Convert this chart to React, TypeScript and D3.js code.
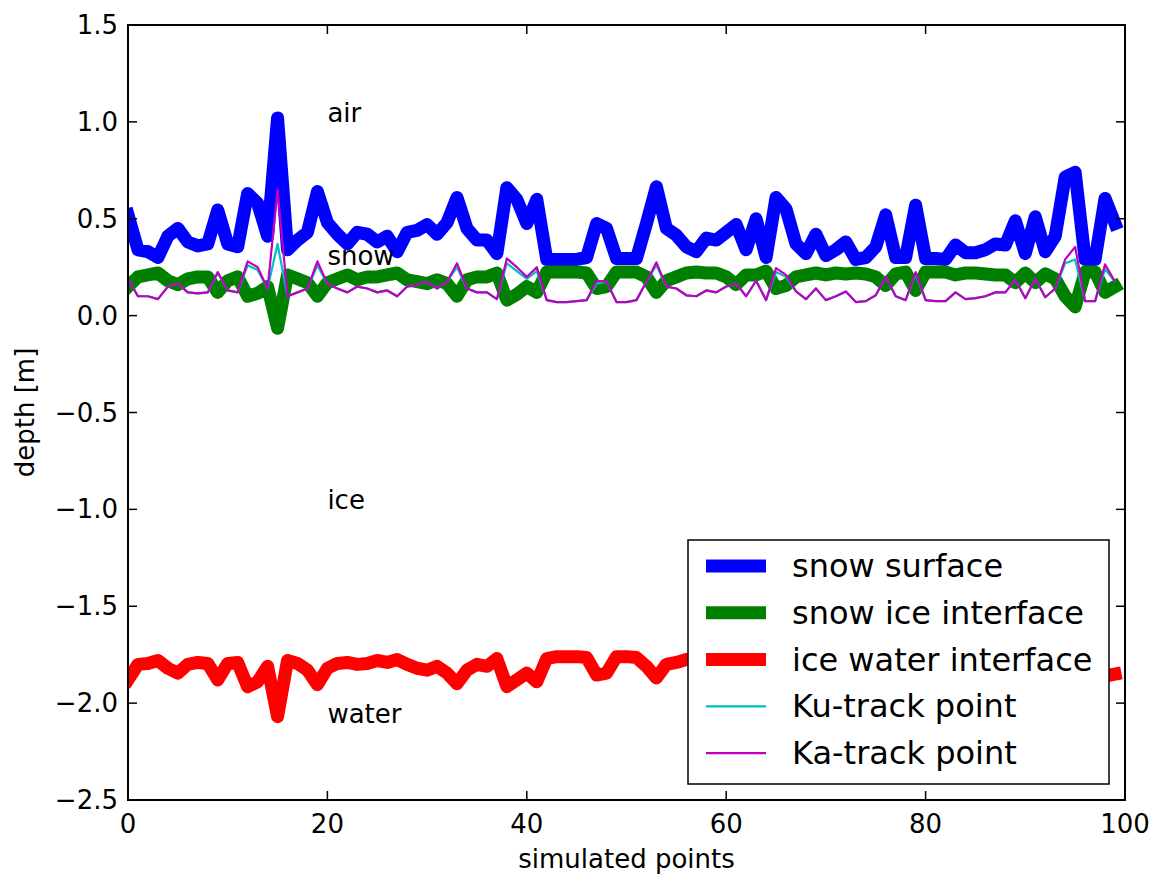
import React from "react";
import * as d3 from "d3";

// ---- data ----
const snowSurface = [
  0.52, 0.34, 0.33, 0.30, 0.41, 0.45, 0.38, 0.36, 0.37, 0.545,
  0.37, 0.355, 0.63, 0.58, 0.41, 1.02, 0.34, 0.39, 0.43, 0.64,
  0.48, 0.42, 0.37, 0.43, 0.42, 0.38, 0.41, 0.33, 0.43, 0.44,
  0.47, 0.42, 0.48, 0.61, 0.45, 0.39, 0.39, 0.32, 0.66, 0.60,
  0.475, 0.60, 0.29, 0.29, 0.29, 0.29, 0.30, 0.475, 0.45, 0.295,
  0.295, 0.295, 0.475, 0.665, 0.45, 0.415, 0.355, 0.33, 0.40, 0.39,
  0.43, 0.47, 0.34, 0.50, 0.30, 0.61, 0.55, 0.37, 0.32, 0.42,
  0.31, 0.34, 0.38, 0.29, 0.30, 0.355, 0.52, 0.30, 0.30, 0.57,
  0.295, 0.295, 0.29, 0.365, 0.325, 0.325, 0.34, 0.37, 0.365, 0.49,
  0.32, 0.51, 0.33, 0.41, 0.715, 0.74, 0.29, 0.29, 0.605, 0.475,
];
const snowIce = [
  0.15, 0.20, 0.21, 0.22, 0.18, 0.16, 0.19, 0.20, 0.20, 0.12,
  0.18, 0.20, 0.10, 0.115, 0.15, -0.065, 0.21, 0.19, 0.17, 0.10,
  0.17, 0.19, 0.21, 0.185, 0.20, 0.20, 0.21, 0.22, 0.185, 0.175,
  0.165, 0.185, 0.165, 0.10, 0.185, 0.20, 0.20, 0.22, 0.08, 0.11,
  0.15, 0.12, 0.225, 0.225, 0.225, 0.225, 0.22, 0.14, 0.15, 0.225,
  0.225, 0.225, 0.20, 0.12, 0.18, 0.20, 0.22, 0.225, 0.22, 0.22,
  0.20, 0.16, 0.21, 0.21, 0.23, 0.14, 0.155, 0.20, 0.21, 0.22,
  0.21, 0.22, 0.215, 0.22, 0.215, 0.20, 0.155, 0.215, 0.225, 0.13,
  0.225, 0.225, 0.225, 0.21, 0.22, 0.22, 0.215, 0.21, 0.21, 0.17,
  0.22, 0.17, 0.215, 0.19, 0.10, 0.045, 0.225, 0.225, 0.12, 0.15,
];
const iceWater = [
  -1.88, -1.80, -1.795, -1.78, -1.82, -1.845, -1.80, -1.79, -1.795, -1.88,
  -1.795, -1.79, -1.915, -1.89, -1.81, -2.07, -1.78, -1.795, -1.83, -1.905,
  -1.82, -1.795, -1.79, -1.80, -1.795, -1.78, -1.79, -1.775, -1.80, -1.82,
  -1.83, -1.81, -1.845, -1.90, -1.83, -1.80, -1.81, -1.77, -1.915, -1.88,
  -1.845, -1.89, -1.77, -1.76, -1.76, -1.76, -1.765, -1.855, -1.845, -1.76,
  -1.76, -1.765, -1.81, -1.87, -1.80, -1.79, -1.775, -1.77, -1.77, -1.78,
  -1.79, -1.81, -1.78, -1.84, -1.77, -1.87, -1.85, -1.79, -1.78, -1.78,
  -1.77, -1.79, -1.79, -1.77, -1.77, -1.80, -1.85, -1.77, -1.77, -1.87,
  -1.77, -1.77, -1.77, -1.79, -1.78, -1.78, -1.79, -1.79, -1.79, -1.84,
  -1.78, -1.85, -1.79, -1.82, -1.90, -1.94, -1.77, -1.77, -1.86, -1.85,
];
const kuTrack = [
  0.19, 0.10, 0.10, 0.085, 0.15, 0.165, 0.12, 0.115, 0.12, 0.22,
  0.13, 0.12, 0.26, 0.235, 0.14, 0.37, 0.10, 0.12, 0.14, 0.26,
  0.165, 0.14, 0.12, 0.15, 0.14, 0.12, 0.13, 0.10, 0.15, 0.16,
  0.175, 0.14, 0.175, 0.25, 0.14, 0.12, 0.12, 0.085, 0.27, 0.23,
  0.19, 0.23, 0.08, 0.07, 0.07, 0.075, 0.08, 0.165, 0.175, 0.07,
  0.07, 0.08, 0.175, 0.26, 0.15, 0.14, 0.105, 0.10, 0.13, 0.12,
  0.15, 0.165, 0.10, 0.18, 0.08, 0.225, 0.20, 0.125, 0.085, 0.14,
  0.08, 0.10, 0.125, 0.07, 0.075, 0.105, 0.20, 0.10, 0.08, 0.215,
  0.08, 0.075, 0.075, 0.12, 0.085, 0.09, 0.10, 0.12, 0.12, 0.185,
  0.09, 0.19, 0.095, 0.14, 0.27, 0.29, 0.075, 0.075, 0.24, 0.175,
];
const kaTrack = [
  0.19, 0.10, 0.10, 0.085, 0.15, 0.165, 0.12, 0.115, 0.12, 0.225,
  0.13, 0.12, 0.28, 0.25, 0.14, 0.65, 0.10, 0.12, 0.14, 0.28,
  0.165, 0.14, 0.12, 0.15, 0.14, 0.12, 0.13, 0.10, 0.15, 0.16,
  0.175, 0.14, 0.175, 0.27, 0.14, 0.12, 0.12, 0.085, 0.295, 0.25,
  0.20, 0.25, 0.08, 0.07, 0.07, 0.075, 0.08, 0.18, 0.175, 0.07,
  0.07, 0.08, 0.175, 0.275, 0.15, 0.14, 0.105, 0.10, 0.13, 0.12,
  0.15, 0.165, 0.10, 0.18, 0.08, 0.245, 0.21, 0.125, 0.085, 0.14,
  0.08, 0.10, 0.125, 0.07, 0.075, 0.105, 0.20, 0.10, 0.08, 0.225,
  0.08, 0.075, 0.075, 0.12, 0.085, 0.09, 0.10, 0.12, 0.12, 0.185,
  0.09, 0.19, 0.095, 0.14, 0.29, 0.355, 0.075, 0.075, 0.265, 0.175,
];
const xTicks = [0, 20, 40, 60, 80, 100];
const yTicks = [-2.5, -2.0, -1.5, -1.0, -0.5, 0.0, 0.5, 1.0, 1.5];
const layerLabels = [
  { text: "air", x: 20, y: 1.0 },
  { text: "snow", x: 20, y: 0.26 },
  { text: "ice", x: 20, y: -1.0 },
  { text: "water", x: 20, y: -2.1 },
];

const series = [
  { name: "snow surface", values: snowSurface, color: "#0000ff", width: 13 },
  { name: "snow ice interface", values: snowIce, color: "#008000", width: 13 },
  { name: "ice water interface", values: iceWater, color: "#ff0000", width: 13 },
  { name: "Ku-track point", values: kuTrack, color: "#00bfbf", width: 2.2 },
  { name: "Ka-track point", values: kaTrack, color: "#bf00bf", width: 2.2 },
];

const W = 1155;
const H = 878;
const M = { left: 128, right: 1125, top: 25, bottom: 800 };
const FONT = "'DejaVu Sans', sans-serif";

export default function App() {
  const x = d3.scaleLinear().domain([0, 100]).range([M.left, M.right]);
  const y = d3.scaleLinear().domain([-2.5, 1.5]).range([M.bottom, M.top]);
  const fmt = (v: number) => d3.format(".1f")(v).replace("-", "\u2212");
  const tickLen = 9;
  const fs = 26;

  const lineGen = (vals: number[]) =>
    d3
      .line<number>()
      .x((_, i) => x(i))
      .y((v) => y(v))(vals) || "";

  const legW = 421;
  const legH = 244;
  const legX = M.right - 16 - legW;
  const legY = M.bottom - 16 - legH;
  const rowH = 46.8;

  return (
    <svg width={W} height={H} style={{ position: "absolute", left: 0, top: 0, background: "#fff" }}>
      <rect x={0} y={0} width={W} height={H} fill="#fff" />
      <defs>
        <clipPath id="plotclip">
          <rect x={M.left} y={M.top} width={M.right - M.left} height={M.bottom - M.top} />
        </clipPath>
      </defs>
      <g clipPath="url(#plotclip)">
        {series.map((s) => (
          <path
            key={s.name}
            d={lineGen(s.values)}
            fill="none"
            stroke={s.color}
            strokeWidth={s.width}
            strokeLinejoin="round"
            strokeLinecap={s.width > 5 ? "square" : "butt"}
          />
        ))}
      </g>
      {layerLabels.map((l) => (
        <text key={l.text} x={x(l.x)} y={y(l.y)} fontFamily={FONT} fontSize={fs} fill="#000">
          {l.text}
        </text>
      ))}
      {/* axes frame */}
      <rect
        x={M.left}
        y={M.top}
        width={M.right - M.left}
        height={M.bottom - M.top}
        fill="none"
        stroke="#000"
        strokeWidth={2}
      />
      {yTicks.map((t) => (
        <g key={"y" + t}>
          <line x1={M.left} x2={M.left + tickLen} y1={y(t)} y2={y(t)} stroke="#000" strokeWidth={1.5} />
          <line x1={M.right} x2={M.right - tickLen} y1={y(t)} y2={y(t)} stroke="#000" strokeWidth={1.5} />
          <text
            x={M.left - 10}
            y={y(t)}
            textAnchor="end"
            dominantBaseline="central"
            fontFamily={FONT}
            fontSize={fs}
          >
            {fmt(t)}
          </text>
        </g>
      ))}
      {xTicks.map((t) => (
        <g key={"x" + t}>
          <line x1={x(t)} x2={x(t)} y1={M.bottom} y2={M.bottom - tickLen} stroke="#000" strokeWidth={1.5} />
          <line x1={x(t)} x2={x(t)} y1={M.top} y2={M.top + tickLen} stroke="#000" strokeWidth={1.5} />
          <text x={x(t)} y={M.bottom + 33} textAnchor="middle" fontFamily={FONT} fontSize={fs}>
            {t}
          </text>
        </g>
      ))}
      <text
        x={(M.left + M.right) / 2}
        y={M.bottom + 68}
        textAnchor="middle"
        fontFamily={FONT}
        fontSize={fs}
      >
        simulated points
      </text>
      <text
        transform={`translate(34, ${(M.top + M.bottom) / 2}) rotate(-90)`}
        textAnchor="middle"
        fontFamily={FONT}
        fontSize={fs}
      >
        depth [m]
      </text>
      {/* legend */}
      <rect x={legX} y={legY} width={legW} height={legH} fill="#fff" stroke="#000" strokeWidth={1.5} />
      {series.map((s, i) => {
        const cy = legY + 26 + i * rowH;
        return (
          <g key={"leg" + s.name}>
            <line
              x1={legX + 18}
              x2={legX + 78}
              y1={cy}
              y2={cy}
              stroke={s.color}
              strokeWidth={s.width}
            />
            <text x={legX + 104} y={cy} dominantBaseline="central" fontFamily={FONT} fontSize={32}>
              {s.name}
            </text>
          </g>
        );
      })}
    </svg>
  );
}
